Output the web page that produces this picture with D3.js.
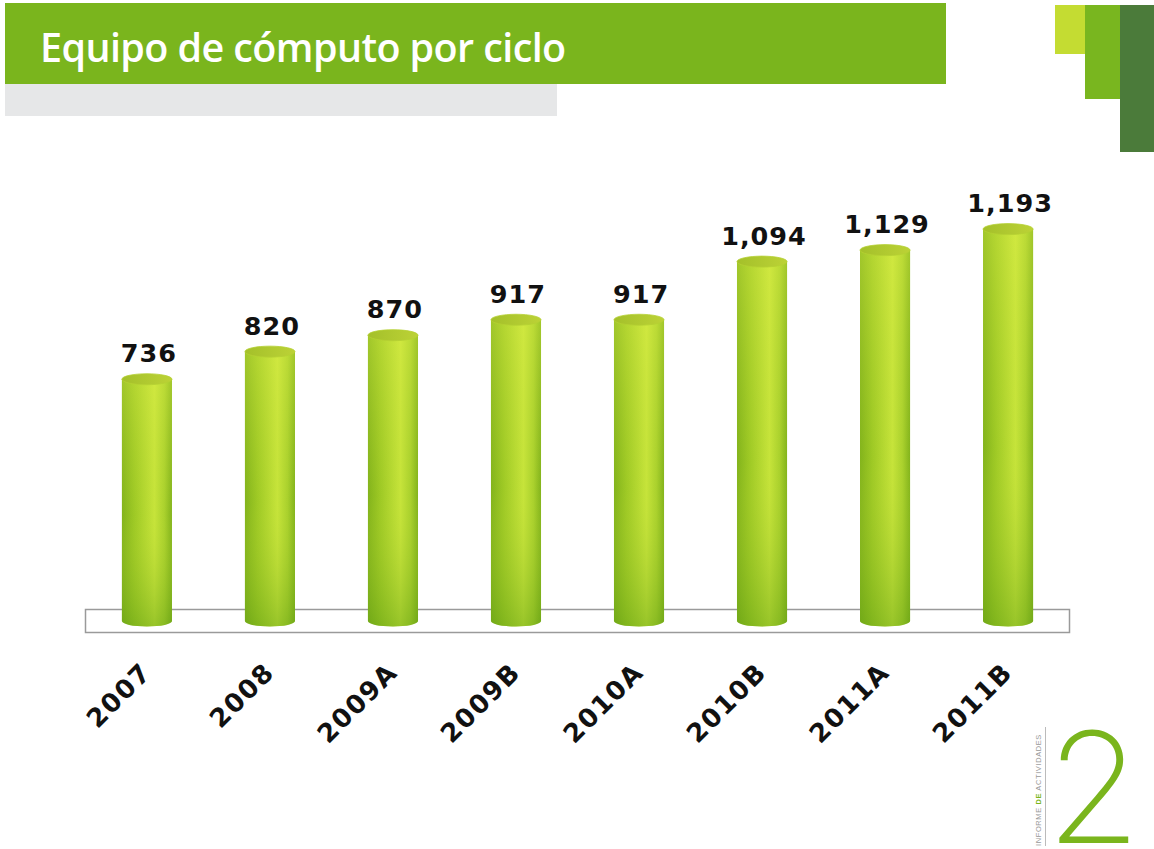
<!DOCTYPE html>
<html>
<head>
<meta charset="utf-8">
<script src="https://cdn.jsdelivr.net/npm/d3@7"></script>
<style>
  body { margin: 0; background: #fff; }
  svg { display: block; }
</style>
</head>
<body>
<div id="container"></div>
<script>
const categories = ["2007", "2008", "2009A", "2009B", "2010A", "2010B", "2011A", "2011B"];
const values = [736, 820, 870, 917, 917, 1094, 1129, 1193];
const valueLabels = ["736", "820", "870", "917", "917", "1,094", "1,129", "1,193"];

const width = 1154;
const height = 849;

const svg = d3.select("#container").append("svg")
  .attr("width", width)
  .attr("height", height);

const defs = svg.append("defs");

// side shading of the cylinder
const side = defs.append("linearGradient").attr("id", "side")
  .attr("x1", 0).attr("x2", 1).attr("y1", 0).attr("y2", 0);
side.append("stop").attr("offset", "0%").attr("stop-color", "#7fb11a");
side.append("stop").attr("offset", "25%").attr("stop-color", "#9cc824");
side.append("stop").attr("offset", "65%").attr("stop-color", "#c6e43a");
side.append("stop").attr("offset", "85%").attr("stop-color", "#a8d02c");
side.append("stop").attr("offset", "100%").attr("stop-color", "#7fb11a");

// top lighter, bottom greener
const vert = defs.append("linearGradient").attr("id", "vert")
  .attr("x1", 0).attr("x2", 0).attr("y1", 0).attr("y2", 1);
vert.append("stop").attr("offset", "0%").attr("stop-color", "#e2ef4a").attr("stop-opacity", 0.35);
vert.append("stop").attr("offset", "55%").attr("stop-color", "#c8e03a").attr("stop-opacity", 0.05);
vert.append("stop").attr("offset", "100%").attr("stop-color", "#5f9e14").attr("stop-opacity", 0.45);

const cap = defs.append("linearGradient").attr("id", "cap")
  .attr("x1", 0).attr("x2", 1).attr("y1", 0).attr("y2", 0);
cap.append("stop").attr("offset", "0%").attr("stop-color", "#a4c02a");
cap.append("stop").attr("offset", "100%").attr("stop-color", "#bcd236");

// header
svg.append("rect").attr("x", 5).attr("y", 84).attr("width", 552).attr("height", 32).attr("fill", "#e6e7e8");
svg.append("rect").attr("x", 5).attr("y", 3).attr("width", 941).attr("height", 81).attr("fill", "#7ab51d");
svg.append("text")
  .attr("x", 40).attr("y", 62)
  .attr("fill", "#fff")
  .attr("font-family", "'Open Sans', sans-serif")
  .attr("font-weight", 600)
  .attr("font-size", 39.5)
  .attr("letter-spacing", -0.6)
  .text("Equipo de cómputo por ciclo");

// corner blocks
svg.append("rect").attr("x", 1055).attr("y", 5).attr("width", 31).attr("height", 49).attr("fill", "#c4dc32");
svg.append("rect").attr("x", 1085).attr("y", 5).attr("width", 36).attr("height", 94).attr("fill", "#79b61f");
svg.append("rect").attr("x", 1120).attr("y", 5).attr("width", 34).attr("height", 147).attr("fill", "#4b7b3a");

// scales
const x = d3.scaleBand().domain(categories).range([85, 1070]).paddingInner(0.593).paddingOuter(0.3);
const y = d3.scaleLinear().domain([0, 1200]).range([621, 621 - 1200 * 0.3285]);

// floor
svg.append("rect")
  .attr("x", 85.5).attr("y", 609.5).attr("width", 984).attr("height", 23)
  .attr("fill", "#fff").attr("stroke", "#9a9a9a").attr("stroke-width", 1.5);

const rx = x.bandwidth() / 2;
const ry = 5.5;

const bars = svg.append("g").selectAll("g")
  .data(categories.map((c, i) => ({ c, v: values[i], label: valueLabels[i] })))
  .join("g");

const body = (d) => {
  const x0 = x(d.c);
  const x1 = x0 + x.bandwidth();
  const top = y(d.v);
  const bot = y(0);
  return `M${x0},${top} L${x0},${bot} A${rx},${ry} 0 0 0 ${x1},${bot} L${x1},${top} Z`;
};

bars.append("path").attr("d", body).attr("fill", "url(#side)");
bars.append("path").attr("d", body).attr("fill", "url(#vert)");

bars.append("ellipse")
  .attr("cx", (d) => x(d.c) + rx)
  .attr("cy", (d) => y(d.v))
  .attr("rx", rx)
  .attr("ry", ry)
  .attr("fill", "url(#cap)")
  .attr("stroke", "#b5d032")
  .attr("stroke-width", 0.8);

bars.append("text")
  .attr("x", (d) => x(d.c) + rx + 2)
  .attr("y", (d) => y(d.v) - 17)
  .attr("text-anchor", "middle")
  .attr("font-family", "'DejaVu Sans', sans-serif")
  .attr("font-weight", "bold")
  .attr("font-size", 25.5)
  .attr("letter-spacing", 1)
  .attr("fill", "#111")
  .text((d) => d.label);

// category labels
svg.append("g").selectAll("text")
  .data(categories)
  .join("text")
  .attr("transform", (d) => `translate(${x(d) + rx + 6},${674}) rotate(-45)`)
  .attr("text-anchor", "end")
  .attr("font-family", "'DejaVu Sans', sans-serif")
  .attr("font-weight", "bold")
  .attr("font-size", 26)
  .attr("letter-spacing", 1.5)
  .attr("fill", "#111")
  .text((d) => d);

// logo
svg.append("line").attr("x1", 1045.5).attr("x2", 1045.5).attr("y1", 727).attr("y2", 846)
  .attr("stroke", "#bbb").attr("stroke-width", 1);
const vt = svg.append("text")
  .attr("transform", "translate(1041,846) rotate(-90)")
  .attr("font-family", "'Liberation Sans', Arial, sans-serif")
  .attr("font-size", 7.5)
  .attr("letter-spacing", 0.6)
  .attr("fill", "#999");
vt.append("tspan").text("INFORME ");
vt.append("tspan").attr("fill", "#7ab51d").attr("font-weight", "bold").text("DE");
vt.append("tspan").text(" ACTIVIDADES");
svg.append("text")
  .attr("x", 1046).attr("y", 843)
  .attr("font-family", "Inter, sans-serif")
  .attr("font-weight", 200)
  .attr("font-size", 154)
  .attr("fill", "#7ab51d")
  .text("2");
</script>
</body>
</html>
